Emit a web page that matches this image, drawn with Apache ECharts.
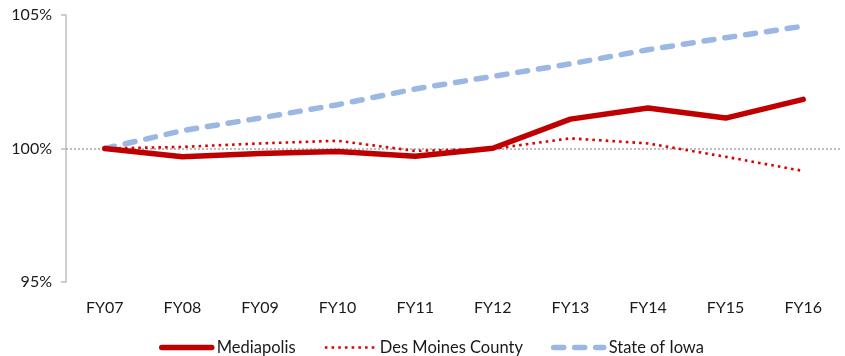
<!DOCTYPE html>
<html>
<head>
<meta charset="utf-8">
<script src="https://cdn.jsdelivr.net/npm/echarts@6/dist/echarts.min.js"></script>
<style>
  html, body { margin: 0; padding: 0; background: #fff; }
  #chart { width: 845px; height: 356px; }
</style>
</head>
<body>
<div id="chart"></div>
<script>
// Enrollment index, FY07 = 100%
const years = ['FY07', 'FY08', 'FY09', 'FY10', 'FY11', 'FY12', 'FY13', 'FY14', 'FY15', 'FY16'];
const mediapolis = [100, 99.69, 99.81, 99.89, 99.71, 100.01, 101.1, 101.52, 101.14, 101.84];
const desMoinesCounty = [100, 100.06, 100.19, 100.29, 99.91, 99.99, 100.38, 100.19, 99.69, 99.16];
const stateOfIowa = [100, 100.67, 101.14, 101.64, 102.23, 102.7, 103.17, 103.7, 104.15, 104.58];
const yTicks = [95, 100, 105];

const FONT = 'Lato';
const TEXT = '#1a1a1a';

const styles = {
  'Mediapolis': { color: '#C00000', width: 5.5, type: 'solid', cap: 'round', join: 'round' },
  'Des Moines County': { color: '#E00000', width: 2.6, type: [2.6, 4.1], cap: 'butt', join: 'round' },
  'State of Iowa': { color: '#9BB7E3', width: 5.5, type: [10, 11], cap: 'round', join: 'round' }
};

const chart = echarts.init(document.getElementById('chart'), null, { renderer: 'canvas' });

chart.setOption({
  animation: false,
  backgroundColor: '#ffffff',
  grid: { left: 66, right: 3, top: 15, bottom: 74, containLabel: false },
  legend: {
    left: 154,
    top: 334,
    itemWidth: 50,
    itemHeight: 14,
    itemGap: 28,
    itemStyle: { opacity: 0 },
    textStyle: { fontFamily: FONT, fontSize: 16.5, color: TEXT },
    data: Object.keys(styles).map(name => ({
      name: name,
      itemStyle: { opacity: 0 },
      lineStyle: Object.assign({}, styles[name])
    }))
  },
  xAxis: {
    type: 'category',
    data: years,
    boundaryGap: true,
    axisLine: { show: false },
    axisTick: { show: false },
    axisLabel: { fontFamily: FONT, fontSize: 16, color: TEXT, margin: 18 },
    splitLine: { show: false }
  },
  yAxis: {
    type: 'value',
    min: yTicks[0],
    max: yTicks[yTicks.length - 1],
    interval: 5,
    axisLine: { show: true, lineStyle: { color: '#BFBFBF', width: 1.5 } },
    axisTick: { show: true, length: 5, lineStyle: { color: '#BFBFBF', width: 1.5 } },
    axisLabel: {
      fontFamily: FONT, fontSize: 16, color: TEXT, margin: 14,
      formatter: v => v + '%'
    },
    splitLine: { show: false }
  },
  series: [
    {
      name: 'Mediapolis',
      type: 'line',
      data: mediapolis,
      symbol: 'none',
      z: 4,
      lineStyle: styles['Mediapolis'],
      itemStyle: { color: '#C00000' },
      markLine: {
        silent: true,
        symbol: 'none',
        label: { show: false },
        lineStyle: { color: '#A6A6A6', width: 1.5, type: [2, 2] },
        data: [{ yAxis: 100 }],
        z: 1
      }
    },
    {
      name: 'Des Moines County',
      type: 'line',
      data: desMoinesCounty,
      symbol: 'none',
      z: 3,
      lineStyle: styles['Des Moines County'],
      itemStyle: { color: '#E00000' }
    },
    {
      name: 'State of Iowa',
      type: 'line',
      data: stateOfIowa,
      symbol: 'none',
      z: 2,
      lineStyle: styles['State of Iowa'],
      itemStyle: { color: '#9BB7E3' }
    }
  ]
});
</script>
</body>
</html>
